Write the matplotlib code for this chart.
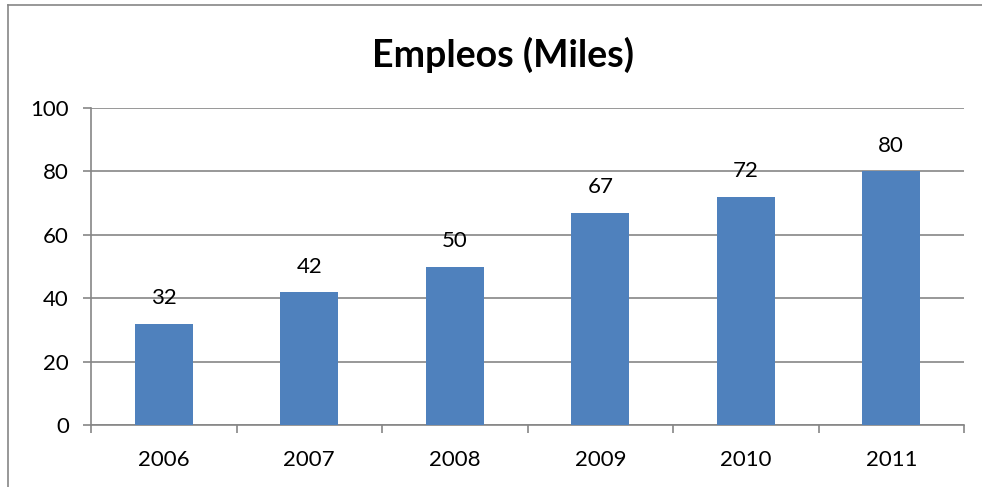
import matplotlib.pyplot as plt
from matplotlib.lines import Line2D
import numpy as np

years = ['2006', '2007', '2008', '2009', '2010', '2011']
empleos = [32, 42, 50, 67, 72, 80]
y_ticks = [0, 20, 40, 60, 80, 100]

plt.rcParams['font.family'] = ['Lato', 'DejaVu Sans']

bar_color = '#4F81BD'
grid_color = '#868686'

fig = plt.figure(figsize=(9.82, 4.87), dpi=100)
ax = fig.add_axes([0.0927, 0.1273, 0.889, 0.6509])

x = np.arange(len(years))
bars = ax.bar(x, empleos, width=0.4, color=bar_color, zorder=3)

for b, v in zip(bars, empleos):
    ax.annotate(str(v), (b.get_x() + b.get_width() / 2, v),
                xytext=(0, 11), textcoords='offset points',
                ha='center', va='bottom', fontsize=16)

ax.set_xlim(-0.5, len(years) - 0.5)
ax.set_ylim(0, 100)
ax.set_yticks(y_ticks)
ax.set_xticks(x)
ax.set_xticklabels(years)
ax.set_xticks(np.arange(len(years) + 1) - 0.5, minor=True)

ax.yaxis.grid(True, color=grid_color, linewidth=1.2, zorder=0)
ax.tick_params(axis='both', which='major', labelsize=16, colors='black')
ax.tick_params(axis='x', which='major', length=0, pad=18)
ax.tick_params(axis='x', which='minor', length=6, width=1.2, color=grid_color)
ax.tick_params(axis='y', length=6, width=1.2, color=grid_color, pad=10)

for s in ['top', 'right']:
    ax.spines[s].set_visible(False)
for s in ['left', 'bottom']:
    ax.spines[s].set_color(grid_color)
    ax.spines[s].set_linewidth(1.2)

fig.text(0.512, 0.887, 'Empleos (Miles)', ha='center', va='center',
         fontsize=27, fontweight='bold')

# chart border (cropped)
fig.add_artist(Line2D([8 / 982, 8 / 982], [0, 1 - 5 / 487],
                      transform=fig.transFigure, color=grid_color, linewidth=1.2))
fig.add_artist(Line2D([8 / 982, 1], [1 - 5 / 487, 1 - 5 / 487],
                      transform=fig.transFigure, color=grid_color, linewidth=1.2))

fig.savefig('out.png', dpi=100)
